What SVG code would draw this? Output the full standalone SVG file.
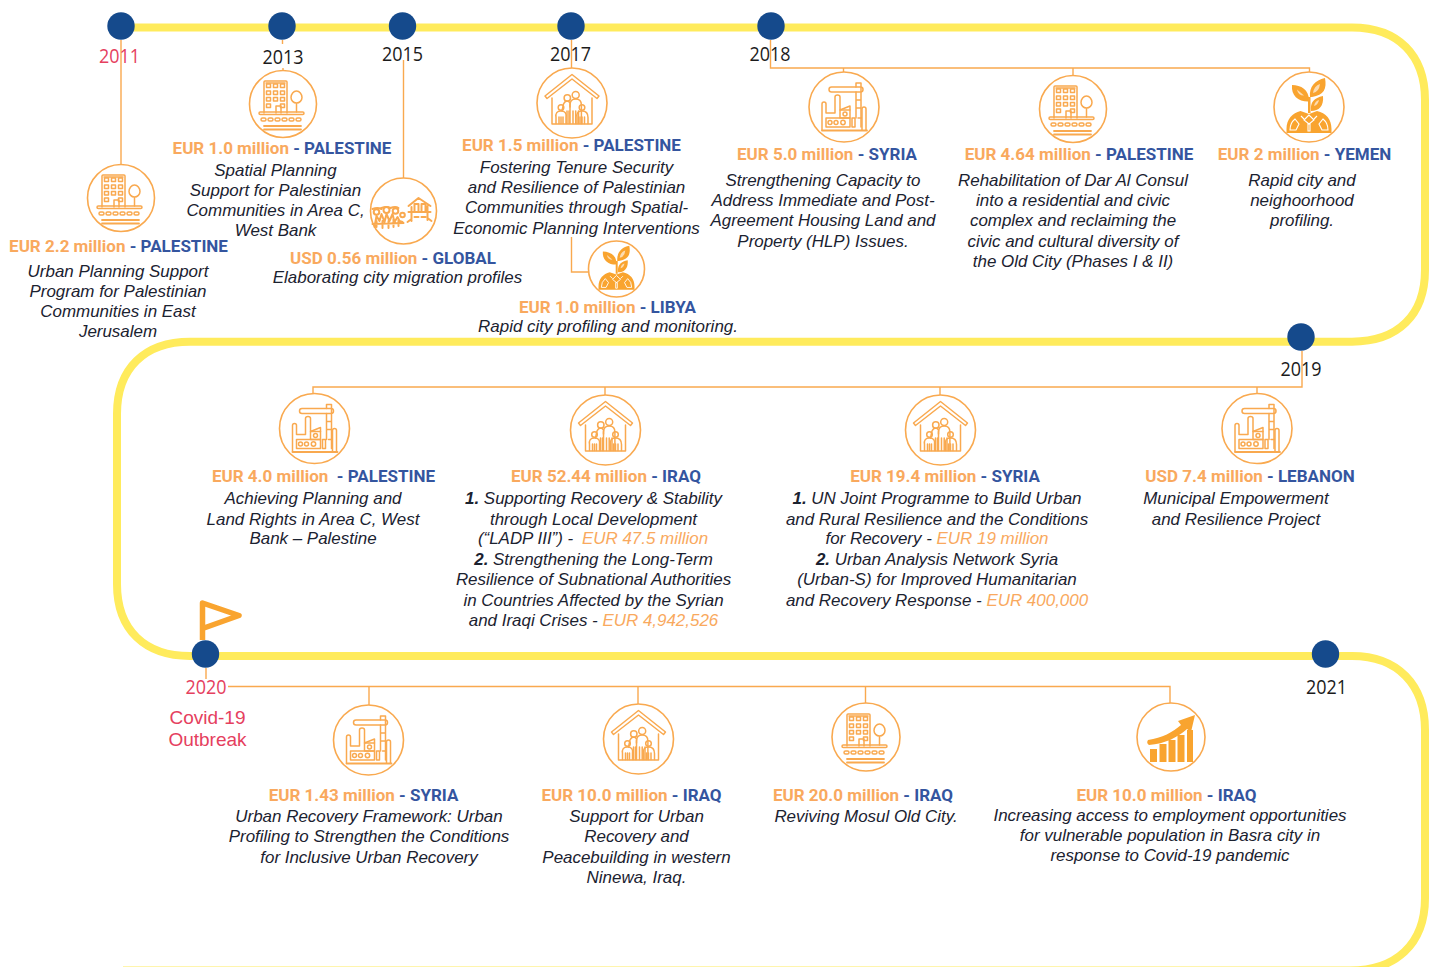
<svg xmlns="http://www.w3.org/2000/svg" width="1434" height="967" viewBox="0 0 1434 967">
<style>
.t{font-family:"Roboto","Liberation Sans",sans-serif;font-weight:700;font-size:17px;text-anchor:middle;fill:#F9A95E}
.t .c{fill:#34559F}
.b{font-family:"Liberation Sans",Arial,sans-serif;font-style:italic;font-size:16.95px;text-anchor:middle;fill:#1B2230}
.b .o{fill:#F9A95E}
.b .n{font-weight:700}
.y{font-family:"Open Sans","Noto Sans",sans-serif;font-size:20px;text-anchor:middle;fill:#1B1B1B}
.r{fill:#E5405E}
.k{font-family:"Liberation Sans",Arial,sans-serif;font-size:19px;text-anchor:middle;fill:#E5405E}
.ic{fill:none;stroke:#F9A94F;stroke-width:1.5;stroke-linejoin:round;stroke-linecap:round}
.ring{fill:#fff;stroke:#F9A94F;stroke-width:1.6}
.f{fill:#F9A42F;stroke:none}
.w{fill:none;stroke:#fff;stroke-width:1.1}
.dot{fill:#154A8C}
.cn{fill:none;stroke:#F9A94F;stroke-width:1.4}
</style>
<defs>
<g id="i-building" class="ic">
<path d="M-19 9V-22q0-1 1-1H3q1 0 1 1V9"/>
<path d="M-17 -21H2M-7 9V2h5V9"/>
<rect x="-16.500" y="-20" width="4" height="3.500"/><rect x="-9.500" y="-20" width="4" height="3.500"/><rect x="-2.500" y="-20" width="4" height="3.500"/>
<rect x="-16.500" y="-13" width="4" height="3.500"/><rect x="-9.500" y="-13" width="4" height="3.500"/><rect x="-2.500" y="-13" width="4" height="3.500"/>
<rect x="-16.500" y="-6.500" width="4" height="3.500"/><rect x="-9.500" y="-6.500" width="4" height="3.500"/><rect x="-2.500" y="-6.500" width="4" height="3.500"/>
<rect x="-16.500" y="0" width="4" height="3.500"/><rect x="-2.500" y="0" width="4" height="3.500"/>
<path d="M13.500 -13c-3 0-5.500 3-5.500 6.500 0 3 2.500 5.500 5.500 5.500s5.500-2.500 5.500-5.500c0-3.500-2.500-6.500-5.500-6.500zM13.500 -1V8"/>
<rect x="-24" y="8" width="45" height="2.500" rx="1.200"/>
<path d="M-19 22H18M-19 25.500H18" stroke-width="1.800"/>
<rect x="-22" y="14" width="5" height="3" rx="1.500"/><rect x="-15" y="14" width="5" height="3" rx="1.500"/><rect x="-8" y="14" width="5" height="3" rx="1.500"/><rect x="-1" y="14" width="5" height="3" rx="1.500"/><rect x="6" y="14" width="5" height="3" rx="1.500"/><rect x="13" y="14" width="5" height="3" rx="1.500"/>
</g>
<g id="i-house" class="ic">
<path d="M-27 -7L0 -28.500L27 -7L25 -4.500L0 -24L-25 -4.500ZM-20 -5V21H20V-5"/>
<circle cx="3.700" cy="-8" r="3.500"/><circle cx="-4.700" cy="-5" r="3.200"/><circle cx="-11" cy="4.500" r="2.800"/><circle cx="10" cy="4.500" r="2.800"/>
<path d="M-2 20.500V2q0-6 5.700-6t5.700 6V20.500M1 8V20.500M3.700 8V20.500M6.500 8V20.500"/>
<path d="M-2 4V0q-1-2-3-2t-3.500 3l-1.500 7M-5 8V20.500M-3 8V20.500"/>
<path d="M-16 20.500v-6q-1-6.500 5-6.500t5 6.500v6M-13 14V20.500M-11 14V20.500M-9 14V20.500"/>
<path d="M5 20.500v-6q-1-6.500 5-6.500t6 6.500v6M8 14V20.500M10 14V20.500M12.500 14V20.500"/>
</g>
<g id="i-crane" class="ic">
<rect x="-15" y="-20" width="34" height="5" rx="2.500"/>
<path d="M12 -20V-24h5V-15M12 -15V11M17 -15V20M12 -7h5M12 1h5"/>
<path d="M-22 23V-3q0-2 2-2t2 2V6H-9V-10q0-2 2.500-2t2.500 2V3M-4 3L6 -1V3"/>
<rect x="-18" y="11" width="24" height="9"/>
<rect x="-4" y="3" width="10" height="8"/>
<circle cx="-14" cy="15.500" r="2"/><circle cx="-8" cy="15.500" r="2"/><circle cx="-1" cy="15.500" r="2.200"/><circle cx="1" cy="7" r="2"/>
<path d="M8 11h3v9H8zM14 11h3M18 23V2q0-2 2-2t2 2V23"/>
<path d="M-22 23.500H23" stroke-width="1.800"/>
</g>
<g id="i-plant">
<path class="f" d="M-22.500 26v-4c0-10 6-16 14-18l8.500 3 8-3c9 2 14.500 8 14.500 18v4z"/>
<path class="f" d="M-17 -22c9 0 17 5 17 15l-1 1.500c-10 0-17-6-16-16.500zM16 -29c2 11-1 17-13 19h-2c-1-10 5-17 15-19zM14 -11c1 10-4 15-12 15-1-9 3-13 12-15z"/>
<path class="f" d="M-1 -10h2.500V6h-2.500z"/>
<path d="M-12 -17.500l7 6q-6 0-7-6zM11 -23q-6 2-7 9 6-1 7-9zM10 -7q-4 1-5 6 4-1 5-6z" fill="#FDDCB0"/>
<path class="w" d="M-19 23q0-7 5-11l4 5-3 6zM19 23q0-7-5-11l-4 5 3 6zM0 8l-5 5 5 4 5-4zM-1 17v7h2v-7zM-8 9l3 3M8 9l-3 3"/>
</g>
<g id="i-chart">
<path class="f" d="M-21 12h7V25h-7zM-11.500 7h7V25h-7zM-2.500 3h7V25h-7zM6.500 -2h7V25h-7zM16 -7h6V25h-6z"/>
<path class="f" d="M-23 3c14-2 25-8 33-15l-3-4 17-6-4 17-4-3c-9 8-22 15-38 16q-3-2-1-5z"/>
</g>
<g id="i-migrate">
<g class="ic" style="stroke-width:2">
<circle cx="-27" cy="1" r="2.800"/><circle cx="-17" cy="-1" r="3"/><circle cx="-8" cy="0" r="2.800"/><circle cx="-1" cy="4" r="2.300"/>
<path d="M-31 -2q5-2 9 0M-22 -3q5-2 9 0M-13 -3q5-2 8 0"/>
<path d="M-29 16l2-11 3 5 2-7 3 8 2-8 3 7 3-7 2 8 3-5 2 4 3 1M-27 16v-6M-21 17v-7M-15 17v-7M-10 16v-8M-5 15v-6M-31 13l31-1"/>
<path d="M5 -5L15 -13L27 -5M8 -4V10M24 -5V9M5 1H27M11 0V-7h4V0M18 0V-7h4V0M11 6h4M18 6h4M4 11l4-3M28 10l-4-3"/>
</g>
</g>
</defs>

<g id="connectors">
<path id="timeline" d="M125 27.500H1352C1398 27.500 1425 55 1425 100V270C1425 315 1398 341.700 1352 341.700H190C145 341.700 117 368 117 414V584C117 630 145 656 190 656H1352C1398 656 1425 685 1425 730V898C1425 945 1395 970.500 1350 970.500H123" fill="none" stroke="#FFEB5C" stroke-width="8"/>
<path class="cn" d="M121 40V165M282.500 40V44M283 68V71M403.500 60V178M571.500 40V68M571.500 237V272H588M770.500 40V68H1309.500V72M843.500 68V72M1073 68V76M1302 351V387H313V393M605 387V395M940 387V395M1257 387V393M206 668V679M228 686.500H1170V703M369 686.500V705M638 686.500V704M865.500 686.500V703"/>
<path d="M202.500 640V603L239 615.500L204 628" fill="none" stroke="#F9A42F" stroke-width="5.500" stroke-linejoin="round"/>
</g>

<g id="y2011"><circle class="dot" cx="121" cy="26" r="13.700"/><text class="y r" x="119.500" y="62.500" textLength="41" lengthAdjust="spacingAndGlyphs">2011</text></g>
<g id="y2013"><circle class="dot" cx="282" cy="26" r="13.700"/><text class="y" x="283" y="63.500" textLength="41" lengthAdjust="spacingAndGlyphs">2013</text></g>
<g id="y2015"><circle class="dot" cx="402.500" cy="26" r="13.700"/><text class="y" x="402.500" y="61" textLength="41" lengthAdjust="spacingAndGlyphs">2015</text></g>
<g id="y2017"><circle class="dot" cx="571" cy="26" r="13.700"/><text class="y" x="570.500" y="61" textLength="41" lengthAdjust="spacingAndGlyphs">2017</text></g>
<g id="y2018"><circle class="dot" cx="771" cy="26" r="13.700"/><text class="y" x="770" y="61" textLength="41" lengthAdjust="spacingAndGlyphs">2018</text></g>
<g id="y2019"><circle class="dot" cx="1301" cy="337" r="13.700"/><text class="y" x="1301" y="376" textLength="41" lengthAdjust="spacingAndGlyphs">2019</text></g>
<g id="y2020"><circle class="dot" cx="205.500" cy="654" r="13.700"/><text class="y r" x="206" y="694" textLength="41" lengthAdjust="spacingAndGlyphs">2020</text><text class="k" x="207.500" y="724">Covid-19</text><text class="k" x="207.500" y="746">Outbreak</text></g>
<g id="y2021"><circle class="dot" cx="1325.500" cy="654" r="13.700"/><text class="y" x="1326.500" y="693.500" textLength="41" lengthAdjust="spacingAndGlyphs">2021</text></g>

<g id="n-2011-palestine"><circle class="ring" cx="121" cy="198" r="33.500"/><use href="#i-building" x="121" y="198"/>
<text class="t" x="118.500" y="252">EUR 2.2 million <tspan class="c">- PALESTINE</tspan></text>
<text class="b"><tspan x="118" y="277">Urban Planning Support</tspan><tspan x="118" y="297">Program for Palestinian</tspan><tspan x="118" y="316.500">Communities in East</tspan><tspan x="118" y="337">Jerusalem</tspan></text></g>

<g id="n-2013-palestine"><circle class="ring" cx="283" cy="104" r="33.500"/><use href="#i-building" x="283" y="104"/>
<text class="t" x="282" y="154">EUR 1.0 million <tspan class="c">- PALESTINE</tspan></text>
<text class="b"><tspan x="275.500" y="176">Spatial Planning</tspan><tspan x="275.500" y="195.500">Support for Palestinian</tspan><tspan x="275.500" y="216">Communities in Area C,</tspan><tspan x="275.500" y="236">West Bank</tspan></text></g>

<g id="n-2015-global"><circle class="ring" cx="403.500" cy="211" r="33"/><use href="#i-migrate" x="403.500" y="211"/>
<text class="t" x="393" y="264">USD 0.56 million <tspan class="c">- GLOBAL</tspan></text>
<text class="b" x="397.500" y="283">Elaborating city migration profiles</text></g>

<g id="n-2017-palestine"><circle class="ring" cx="572" cy="103" r="35"/><use href="#i-house" x="572" y="103"/>
<text class="t" x="571.500" y="151">EUR 1.5 million <tspan class="c">- PALESTINE</tspan></text>
<text class="b"><tspan x="576.500" y="173">Fostering Tenure Security</tspan><tspan x="576.500" y="193">and Resilience of Palestinian</tspan><tspan x="576.500" y="213">Communities through Spatial-</tspan><tspan x="576.500" y="234">Economic Planning Interventions</tspan></text></g>

<g id="n-2017-libya"><circle class="ring" cx="616.500" cy="269" r="28"/><use href="#i-plant" transform="translate(616.500 269) scale(.8)"/>
<text class="t" x="607.500" y="313">EUR 1.0 million <tspan class="c">- LIBYA</tspan></text>
<text class="b" x="608" y="332">Rapid city profiling and monitoring.</text></g>

<g id="n-2018-syria"><circle class="ring" cx="844" cy="107" r="35"/><use href="#i-crane" x="844" y="107"/>
<text class="t" x="827" y="160">EUR 5.0 million <tspan class="c">- SYRIA</tspan></text>
<text class="b"><tspan x="823" y="186">Strengthening Capacity to</tspan><tspan x="823" y="205.500">Address Immediate and Post-</tspan><tspan x="823" y="226">Agreement Housing Land and</tspan><tspan x="823" y="247">Property (HLP) Issues.</tspan></text></g>

<g id="n-2018-palestine"><circle class="ring" cx="1073" cy="109" r="33.500"/><use href="#i-building" x="1073" y="109"/>
<text class="t" x="1079" y="160">EUR 4.64 million <tspan class="c">- PALESTINE</tspan></text>
<text class="b"><tspan x="1073" y="186">Rehabilitation of Dar Al Consul</tspan><tspan x="1073" y="205.500">into a residential and civic</tspan><tspan x="1073" y="226">complex and reclaiming the</tspan><tspan x="1073" y="247">civic and cultural diversity of</tspan><tspan x="1073" y="267">the Old City (Phases I &amp; II)</tspan></text></g>

<g id="n-2018-yemen"><circle class="ring" cx="1309" cy="107" r="35"/><use href="#i-plant" x="1309" y="107"/>
<text class="t" x="1304.500" y="160">EUR 2 million <tspan class="c">- YEMEN</tspan></text>
<text class="b"><tspan x="1302" y="186">Rapid city and</tspan><tspan x="1302" y="205.500">neighoorhood</tspan><tspan x="1302" y="226">profiling.</tspan></text></g>

<g id="n-2019-palestine"><circle class="ring" cx="314.500" cy="428.500" r="35"/><use href="#i-crane" x="314.500" y="428.500"/>
<text class="t" x="323.500" y="482" xml:space="preserve">EUR 4.0 million  <tspan class="c">- PALESTINE</tspan></text>
<text class="b"><tspan x="313" y="504">Achieving Planning and</tspan><tspan x="313" y="524.500">Land Rights in Area C, West</tspan><tspan x="313" y="544">Bank – Palestine</tspan></text></g>

<g id="n-2019-iraq"><circle class="ring" cx="605.500" cy="430" r="35"/><use href="#i-house" x="605.500" y="430"/>
<text class="t" x="606" y="482">EUR 52.44 million <tspan class="c">- IRAQ</tspan></text>
<text class="b"><tspan x="593.500" y="504"><tspan class="n">1.</tspan> Supporting Recovery &amp; Stability</tspan><tspan x="593.500" y="524.500">through Local Development</tspan><tspan x="593" y="544">(“LADP III”) - <tspan class="o" dx="4">EUR 47.5 million</tspan></tspan><tspan x="593.500" y="564.500"><tspan class="n">2.</tspan> Strengthening the Long-Term</tspan><tspan x="593.500" y="585">Resilience of Subnational Authorities</tspan><tspan x="593.500" y="605.500">in Countries Affected by the Syrian</tspan><tspan x="593.500" y="625.500">and Iraqi Crises - <tspan class="o">EUR 4,942,526</tspan></tspan></text></g>

<g id="n-2019-syria"><circle class="ring" cx="940.500" cy="430" r="35"/><use href="#i-house" x="940.500" y="430"/>
<text class="t" x="945" y="482">EUR 19.4 million <tspan class="c">- SYRIA</tspan></text>
<text class="b"><tspan x="937" y="504"><tspan class="n">1.</tspan> UN Joint Programme to Build Urban</tspan><tspan x="937" y="524.500">and Rural Resilience and the Conditions</tspan><tspan x="937" y="544">for Recovery - <tspan class="o">EUR 19 million</tspan></tspan><tspan x="937" y="564.500"><tspan class="n">2.</tspan> Urban Analysis Network Syria</tspan><tspan x="937" y="585">(Urban-S) for Improved Humanitarian</tspan><tspan x="937" y="605.500">and Recovery Response - <tspan class="o">EUR 400,000</tspan></tspan></text></g>

<g id="n-2019-lebanon"><circle class="ring" cx="1257" cy="428.500" r="35"/><use href="#i-crane" x="1257" y="428.500"/>
<text class="t" x="1250" y="482">USD 7.4 million <tspan class="c">- LEBANON</tspan></text>
<text class="b"><tspan x="1236" y="504">Municipal Empowerment</tspan><tspan x="1236" y="524.500">and Resilience Project</tspan></text></g>

<g id="n-2020-syria"><circle class="ring" cx="368.500" cy="740" r="35"/><use href="#i-crane" x="368.500" y="740"/>
<text class="t" x="363.500" y="801">EUR 1.43 million <tspan class="c">- SYRIA</tspan></text>
<text class="b"><tspan x="369" y="821.500">Urban Recovery Framework: Urban</tspan><tspan x="369" y="842">Profiling to Strengthen the Conditions</tspan><tspan x="369" y="862.500">for Inclusive Urban Recovery</tspan></text></g>

<g id="n-2020-iraq-1"><circle class="ring" cx="638.500" cy="739" r="35"/><use href="#i-house" x="638.500" y="739"/>
<text class="t" x="631.500" y="801">EUR 10.0 million <tspan class="c">- IRAQ</tspan></text>
<text class="b"><tspan x="636.500" y="821.500">Support for Urban</tspan><tspan x="636.500" y="842">Recovery and</tspan><tspan x="636.500" y="862.500">Peacebuilding in western</tspan><tspan x="636.500" y="883">Ninewa, Iraq.</tspan></text></g>

<g id="n-2020-iraq-2"><circle class="ring" cx="866" cy="737" r="34"/><use href="#i-building" x="866" y="737"/>
<text class="t" x="863" y="801">EUR 20.0 million <tspan class="c">- IRAQ</tspan></text>
<text class="b" x="866" y="821.500">Reviving Mosul Old City.</text></g>

<g id="n-2020-iraq-3"><circle class="ring" cx="1171" cy="737" r="34"/><use href="#i-chart" x="1171" y="737"/>
<text class="t" x="1166.500" y="801">EUR 10.0 million <tspan class="c">- IRAQ</tspan></text>
<text class="b"><tspan x="1170" y="821">Increasing access to employment opportunities</tspan><tspan x="1170" y="841">for vulnerable population in Basra city in</tspan><tspan x="1170" y="861">response to Covid-19 pandemic</tspan></text></g>
</svg>
